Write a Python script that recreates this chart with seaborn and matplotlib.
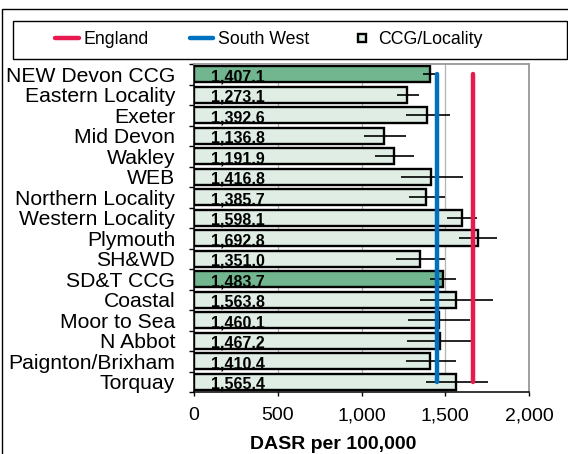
import matplotlib
matplotlib.use('Agg')
import matplotlib.pyplot as plt
from matplotlib.lines import Line2D
from matplotlib.patches import Rectangle
import numpy as np
import pandas as pd
import seaborn as sns

# data
areas = ['NEW Devon CCG', 'Eastern Locality', 'Exeter', 'Mid Devon', 'Wakley', 'WEB',
         'Northern Locality', 'Western Locality', 'Plymouth', 'SH&WD', 'SD&T CCG',
         'Coastal', 'Moor to Sea', 'N Abbot', 'Paignton/Brixham', 'Torquay']
dasr = [1407.1, 1273.1, 1392.6, 1136.8, 1191.9, 1416.8, 1385.7, 1598.1, 1692.8,
        1351.0, 1483.7, 1563.8, 1460.1, 1467.2, 1410.4, 1565.4]
ci_low = [1370, 1209, 1267, 1016, 1078, 1235, 1283, 1510, 1584,
          1207, 1406, 1347, 1279, 1273, 1263, 1383]
ci_high = [1436, 1343, 1526, 1265, 1315, 1604, 1498, 1690, 1809,
           1498, 1566, 1785, 1646, 1654, 1562, 1753]
is_ccg = [True, False, False, False, False, False, False, False, False,
          False, True, False, False, False, False, False]
england = 1666
south_west = 1451

dark_green = '#66c18c'
light_green = '#ddefe3'
eng_color = '#e8194f'
sw_color = '#0070c0'

sns.set_style('white')
plt.rcParams['font.family'] = ['Liberation Sans', 'DejaVu Sans']
plt.rcParams['text.color'] = 'black'
plt.rcParams['xtick.color'] = 'black'
plt.rcParams['ytick.color'] = 'black'
plt.rcParams['axes.labelcolor'] = 'black'

df = pd.DataFrame({'area': areas, 'dasr': dasr})
fills = [dark_green if c else light_green for c in is_ccg]

fig = plt.figure(figsize=[5.68, 4.54], dpi=100)
ax = fig.add_axes([194/568, 1-392/454, 335/568, 328/454])

sns.barplot(data=df, x='dasr', y='area', hue='area', palette=fills, legend=False,
            orient='h', width=0.8, edgecolor='black', linewidth=1.7, ax=ax, zorder=2)

pos = np.arange(len(areas))
lo = np.array(dasr) - np.array(ci_low)
hi = np.array(ci_high) - np.array(dasr)
ax.errorbar(dasr, pos, xerr=[lo, hi], fmt='none', ecolor='black', elinewidth=1.2,
            capsize=0, zorder=3)

# reference lines
ax.plot([south_west, south_west], [pos[0], pos[-1]], color=sw_color, lw=3.2,
        solid_capstyle='round', zorder=4)
ax.plot([england, england], [pos[0], pos[-1]], color=eng_color, lw=3.2,
        solid_capstyle='round', zorder=4)

# value labels inside the bars
for p, v in zip(pos, dasr):
    ax.text(100, p + 0.13, f'{v:,.1f}', ha='left', va='center', fontsize=11.5,
            fontweight='bold', color='black', zorder=5)

ax.set_xlim(0, 2000)
ax.set_ylim(len(areas) - 0.5, -0.5)
ax.set_xticks([0, 500, 1000, 1500, 2000])
ax.set_xticklabels(['0', '500', '1,000', '1,500', '2,000'])
ax.set_yticks(pos)
ax.set_yticks(np.arange(len(areas) + 1) - 0.5, minor=True)
ax.tick_params(axis='y', which='major', length=0, pad=13.5, labelsize=15.2)
ax.tick_params(axis='y', which='minor', length=3.5, width=1, color='black', direction='out', left=True)
ax.tick_params(axis='x', which='major', length=3, width=1, color='black', direction='out',
               bottom=True, pad=8, labelsize=14)
ax.set_ylabel('')
ax.set_xlabel('DASR per 100,000', fontsize=14, fontweight='bold')
ax.xaxis.set_label_coords(0.416, -0.135)
ax.xaxis.label.set_va('top')

ax.grid(axis='x', color='#b3b3b3', lw=0.9, zorder=0)
ax.set_axisbelow(True)
for s in ['top', 'right']:
    ax.spines[s].set_color('#999999')
    ax.spines[s].set_linewidth(1.3)
for s in ['left', 'bottom']:
    ax.spines[s].set_color('black')
    ax.spines[s].set_linewidth(1.1)

# legend inside a framed strip
handles = [Line2D([], [], color=eng_color, lw=3.2),
           Line2D([], [], color=sw_color, lw=3.2),
           Line2D([], [], ls='none', marker='s', markersize=5.5, markerfacecolor=light_green,
                  markeredgecolor='black', markeredgewidth=1.7)]
fig.legend(handles, ['England', 'South West', 'CCG/Locality'], loc='center',
           bbox_to_anchor=(269/568, 1-40/454), ncol=3, frameon=False, fontsize=12.8,
           handlelength=1.3, handletextpad=0.25, columnspacing=2.35)
fig.patches.append(Rectangle((13/568, 1-59/454), 554/568, 38/454, transform=fig.transFigure,
                             fill=False, edgecolor='black', lw=1.0))
fig.patches.append(Rectangle((1.5/568, -0.1), 1.2, 1.1 - 9.5/454, transform=fig.transFigure,
                             fill=False, edgecolor='black', lw=1.0))

fig.savefig('out.png', dpi=100)
